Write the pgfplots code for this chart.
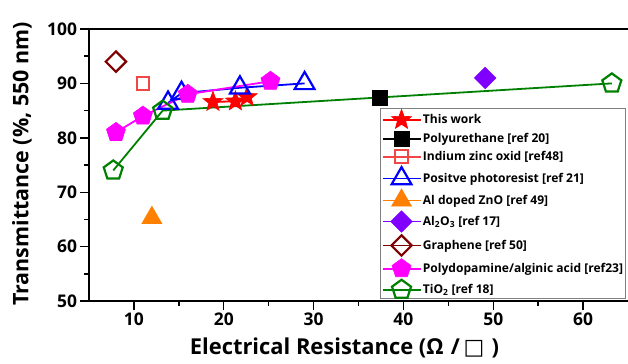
\documentclass[border=0pt]{standalone}
\usepackage{fontspec}
\setmainfont{Open Sans}
\newfontfamily\dejavu{DejaVu Sans}
\usepackage{pgfplots}
\pgfplotsset{compat=1.18}
\usetikzlibrary{plotmarks}
\pgfdeclareplotmark{fstar}{%
  \pgfpathmoveto{\pgfpointpolar{90}{\pgfplotmarksize}}%
  \pgfpathlineto{\pgfpointpolar{126}{0.42\pgfplotmarksize}}%
  \pgfpathlineto{\pgfpointpolar{162}{\pgfplotmarksize}}%
  \pgfpathlineto{\pgfpointpolar{198}{0.42\pgfplotmarksize}}%
  \pgfpathlineto{\pgfpointpolar{234}{\pgfplotmarksize}}%
  \pgfpathlineto{\pgfpointpolar{270}{0.42\pgfplotmarksize}}%
  \pgfpathlineto{\pgfpointpolar{306}{\pgfplotmarksize}}%
  \pgfpathlineto{\pgfpointpolar{342}{0.42\pgfplotmarksize}}%
  \pgfpathlineto{\pgfpointpolar{18}{\pgfplotmarksize}}%
  \pgfpathlineto{\pgfpointpolar{54}{0.42\pgfplotmarksize}}%
  \pgfpathclose\pgfusepathqfillstroke}
\definecolor{cIZO}{RGB}{240,70,70}
\definecolor{cAZO}{RGB}{255,128,0}
\definecolor{cAlO}{RGB}{128,0,255}
\definecolor{cGra}{RGB}{128,0,0}
\definecolor{cPDA}{RGB}{255,0,255}
\definecolor{cTiO}{RGB}{0,128,0}
\begin{document}
\begin{tikzpicture}
\useasboundingbox (-89bp,-63bp) rectangle (539bp,301bp);
\begin{axis}[
  at={(0,0)}, anchor=south west,
  scale only axis, width=539bp, height=272bp,
  xmin=5, xmax=65, ymin=50, ymax=100,
  axis x line*=box, axis y line*=left,
  axis line style={line width=1.8bp},
  xtick={10,20,...,60}, ytick={50,60,...,100},
  minor x tick num=1, minor y tick num=1,
  tick align=outside, tick pos=left,
  major tick length=8.5bp, minor tick length=5bp,
  tick style={line width=1.4bp, black},
  /pgf/number format/assume math mode=true,
  xticklabel={\fontsize{17.5}{18}\selectfont\bfseries\pgfmathprintnumber{\tick}},
  yticklabel={\fontsize{17.5}{18}\selectfont\bfseries\pgfmathprintnumber{\tick}},
  xlabel={\fontsize{22}{24}\selectfont\bfseries Electrical Resistance (Ω\,\,/\,{\dejavu\bfseries □}\,\,)},
  ylabel={\fontsize{21.5}{24}\selectfont\bfseries Transmittance (\%, 550 nm)},
  every axis x label/.style={at={(rel axis cs:0.5,0)}, anchor=base, xshift=-14bp, yshift=-53bp},
  every axis y label/.style={at={(rel axis cs:0,0.5)}, anchor=center, xshift=-67bp, yshift=1bp, rotate=90},
  every axis plot/.append style={line width=1.8bp},
  legend cell align=left,
  legend style={at={(rel axis cs:0.9963,0.7096)}, anchor=north east,
    draw=gray, line width=0.8bp, font=\fontsize{12.1}{14}\selectfont\bfseries,
    row sep=3bp, inner sep=1bp,
    nodes={inner xsep=1.5bp}},
  legend image code/.code={\draw[mark repeat=2,mark phase=2] plot coordinates {(0cm,0cm)(0.67cm,0cm)(1.34cm,0cm)};},
]
\addplot[red, mark=fstar, mark size=10.5bp, mark options={fill=red,line width=0.6bp}] coordinates {(18.8,86.6) (21.3,86.7) (22.6,87.5)};
\addlegendentry{This work}
\addplot[black, mark=square*, mark size=7.5bp, mark options={fill=black,line width=0.6bp}] coordinates {(37.4,87.3)};
\addlegendentry{Polyurethane [ref 20]}
\addplot[cIZO, mark=square, mark size=6.3bp, mark options={line width=2.1bp}] coordinates {(11,90)};
\addlegendentry{Indium zinc oxid [ref48]}
\addplot[blue, mark=triangle, mark size=11.5bp, mark options={line width=2.2bp}] coordinates {(13.8,86.4) (15.3,88.2) (21.8,89.2) (29,90)};
\addlegendentry{Positve photoresist [ref 21]}
\addplot[cAZO, mark=triangle*, mark size=11.5bp, mark options={fill=cAZO,line width=0.6bp}] coordinates {(12,65.3)};
\addlegendentry{Al doped ZnO [ref 49]}
\addplot[cAlO, mark=square*, mark size=7.6bp, mark options={fill=cAlO,rotate=45,line width=0.6bp}] coordinates {(49.1,91)};
\addlegendentry{Al\textsubscript{2}O\textsubscript{3} [ref 17]}
\addplot[cGra, mark=square, mark size=7.2bp, mark options={line width=2.2bp,rotate=45}] coordinates {(8,94)};
\addlegendentry{Graphene [ref 50]}
\addplot[cPDA, mark=pentagon*, mark size=10bp, mark options={fill=cPDA,line width=0.6bp}] coordinates {(8,81) (11,84) (16,88) (25.2,90.4)};
\addlegendentry{Polydopamine/alginic acid [ref23]}
\addplot[cTiO, mark=pentagon, mark size=10bp, mark options={line width=2.2bp,fill=white}] coordinates {(7.7,74) (13.2,85) (63.2,90)};
\addlegendentry{TiO\textsubscript{2} [ref 18]}
\end{axis}
\end{tikzpicture}
\end{document}
